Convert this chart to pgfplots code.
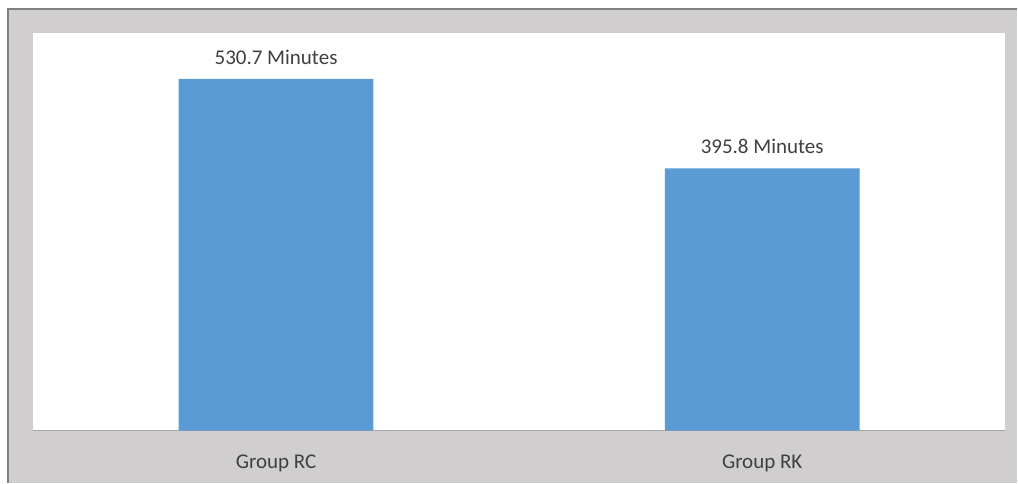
\documentclass[border=0pt]{standalone}
\usepackage{pgfplots}
\pgfplotsset{compat=1.18}
\usepackage{fontspec}
\setmainfont{Carlito}
\definecolor{bg}{HTML}{D0CECE}
\definecolor{barblue}{HTML}{5B9BD5}
\definecolor{txt}{HTML}{404040}
\definecolor{axisgray}{HTML}{A6A6A6}
\begin{document}
\begin{tikzpicture}[x=1pt,y=1pt]
\path[fill=white] (0,0) rectangle (1018,483);
\fill[bg] (8,0) rectangle (1018,474);
\draw[color=gray, line width=1.5pt] (8,0) -- (8,474) -- (1018,474);
\fill[white] (33,52) rectangle (1006,450);
\begin{axis}[
  at={(33pt,52pt)}, anchor=south west,
  scale only axis, width=973pt, height=398pt,
  xmin=-0.5, xmax=1.5, ymin=0, ymax=600,
  axis y line=none, axis x line*=bottom,
  x axis line style={draw=axisgray, line width=1.5pt, -},
  xtick={0,1}, xticklabels={Group RC, Group RK},
  major tick length=0pt,
  /pgf/number format/assume math mode=true,
  xticklabel style={font=\fontsize{21}{25}\selectfont, text=txt, yshift=-21pt},
  ybar, bar width=195pt,
  nodes near coords={\pgfmathprintnumber[fixed,precision=1,fixed zerofill,assume math mode=true]{\pgfplotspointmeta}~Minutes},
  nodes near coords style={font=\fontsize{21}{25}\selectfont, text=txt, yshift=11pt},
]
\addplot[fill=barblue, draw=none] coordinates {(0,530.7) (1,395.8)};
\end{axis}
\end{tikzpicture}
\end{document}
